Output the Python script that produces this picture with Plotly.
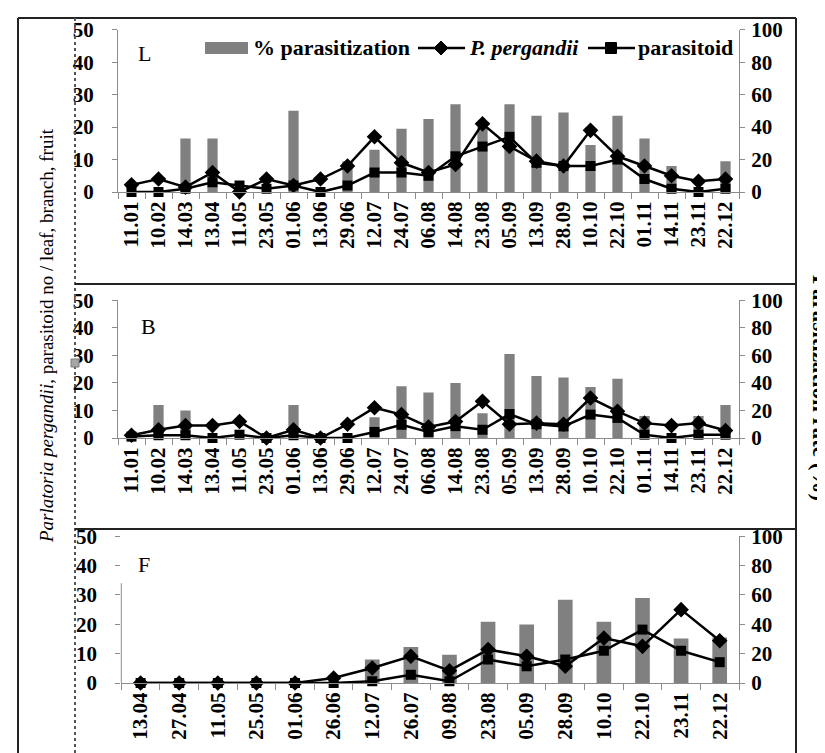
import plotly.graph_objects as go

# ---------------- data ----------------
L_cats = ["11.01", "10.02", "14.03", "13.04", "11.05", "23.05", "01.06", "13.06", "29.06", "12.07",
          "24.07", "06.08", "14.08", "23.08", "05.09", "13.09", "28.09", "10.10", "22.10", "01.11",
          "14.11", "23.11", "22.12"]
L_rate = [0, 0, 33, 33, 0, 0, 50, 0, 19, 26, 39, 45, 54, 40, 54, 47, 49, 29, 47, 33, 16, 0, 19]
L_pp = [2.2, 4, 1.5, 6, 0, 4, 2, 4, 8, 17, 9, 6, 8.5, 21, 14, 9.5, 8, 19, 11, 8, 5, 3.3, 4]
L_par = [0, 0, 1, 3, 2, 1, 2, 0, 2, 6, 6, 5, 11, 14, 17, 9, 8, 8, 10, 4, 1, 0, 1]

B_cats = L_cats
B_rate = [0, 24, 20, 0, 0, 0, 24, 0, 0, 15, 37.5, 33, 40, 18, 61, 45, 44, 37, 43, 16, 0, 16, 24]
B_pp = [1, 3, 4.5, 4.5, 6, 0, 3, 0, 5, 11, 8.5, 4, 6, 13.3, 5, 5.4, 5, 14.5, 9.7, 5.4, 4.5, 5.4, 2.7]
B_par = [0.5, 1, 1, 0, 1.2, 0, 1, 0, 0, 2.2, 4.8, 2.2, 4.3, 3, 8.7, 5, 4.2, 8.5, 7.3, 1.2, 0, 1.2, 1.2]

F_cats = ["13.04", "27.04", "11.05", "25.05", "01.06", "26.06", "12.07", "26.07", "09.08", "23.08",
          "05.09", "28.09", "10.10", "22.10", "23.11", "22.12"]
F_rate = [0, 0, 0, 0, 0, 0, 16, 24.6, 19.3, 41.8, 39.8, 56.8, 41.8, 58, 30.3, 31]
F_pp = [0, 0, 0, 0, 0, 1.7, 5.1, 9.1, 4.2, 11.4, 9.1, 5.7, 15.3, 12.5, 25, 14.4]
F_par = [0, 0, 0, 0, 0, 0, 0.6, 2.8, 0.6, 8, 5.7, 8, 11, 18.2, 11, 7.1]

panel_labels = ["L", "B", "F"]
left_ticks = [0, 10, 20, 30, 40, 50]
right_ticks = [0, 20, 40, 60, 80, 100]

# ---------------- helpers ----------------
W, H = 825, 753


def px(x):
    return x / W


def py(y):
    return 1 - y / H


def bold(v):
    return f"<b>{v}</b>"


FONT = "Liberation Serif"
BAR = "#808080"
AX = "#8c8c8c"

fig = go.Figure()

panels = [
    dict(cats=L_cats, rate=L_rate, pp=L_pp, par=L_par, xdom=(110, 731), ydom=(184, 21.7), lab=(136, 46)),
    dict(cats=B_cats, rate=B_rate, pp=B_pp, par=B_par, xdom=(110, 731), ydom=(430, 292.3), lab=(140, 318)),
    dict(cats=F_cats, rate=F_rate, pp=F_pp, par=F_par, xdom=(113.3, 731), ydom=(675, 528.3), lab=(136, 556)),
]

layout_axes = {}
annotations = []
shapes = []

tickfont = dict(family=FONT, size=21, color="black")

for i, p in enumerate(panels):
    xn = "x" if i == 0 else f"x{i + 1}"
    yr = "y" if i == 0 else f"y{2 * i + 1}"
    yl = f"y{2 * i + 2}"
    xk = "xaxis" if i == 0 else f"xaxis{i + 1}"
    yrk = "yaxis" if i == 0 else f"yaxis{2 * i + 1}"
    ylk = f"yaxis{2 * i + 2}"
    n = len(p["cats"])

    fig.add_trace(go.Bar(x=p["cats"], y=p["rate"], xaxis=xn, yaxis=yr, marker_color=BAR,
                         marker_line_width=0, width=0.38, showlegend=False))
    fig.add_trace(go.Scatter(x=p["cats"], y=p["pp"], xaxis=xn, yaxis=yl, mode="lines+markers",
                             line=dict(color="black", width=2.5),
                             marker=dict(symbol="diamond", size=12, color="black"),
                             cliponaxis=False, showlegend=False))
    fig.add_trace(go.Scatter(x=p["cats"], y=p["par"], xaxis=xn, yaxis=yl, mode="lines+markers",
                             line=dict(color="black", width=2.5),
                             marker=dict(symbol="square", size=10, color="black"),
                             cliponaxis=False, showlegend=False))

    xdom = [px(p["xdom"][0]), px(p["xdom"][1])]
    ydom = [py(p["ydom"][0]), py(p["ydom"][1])]

    layout_axes[xk] = dict(
        type="category", domain=xdom, anchor=yr, range=[-0.5, n - 0.5],
        categoryorder="array", categoryarray=p["cats"],
        tickmode="array", tickvals=p["cats"], ticktext=[bold(c) for c in p["cats"]],
        tickangle=-90, ticks="outside", tickson="boundaries", ticklen=6, tickcolor=AX,
        showline=True, linecolor=AX, linewidth=1, showgrid=False, zeroline=False,
        tickfont=dict(family=FONT, size=21, color="black"),
    )
    layout_axes[yrk] = dict(
        domain=ydom, anchor=xn, side="right", range=[0, 100],
        tickmode="array", tickvals=right_ticks, ticktext=[bold(v) for v in right_ticks],
        ticks="outside", ticklen=5, tickcolor=AX, showline=True, linecolor=AX, linewidth=1,
        showgrid=False, zeroline=False, tickfont=tickfont, ticklabelstandoff=2,
    )
    layout_axes[ylk] = dict(
        domain=ydom, anchor=xn, overlaying=yr, side="left", range=[0, 50],
        tickmode="array", tickvals=left_ticks, ticktext=[bold(v) for v in left_ticks],
        ticks="outside", ticklen=5, tickcolor=AX, showline=(i != 2), linecolor=AX, linewidth=1,
        showgrid=False, zeroline=False, tickfont=tickfont, ticklabelstandoff=14,
    )
    if i == 2:
        shapes.append(dict(type="line", xref="paper", yref=yl, x0=xdom[0], x1=xdom[0], y0=0, y1=34,
                           line=dict(color=AX, width=1)))

    annotations.append(dict(text=panel_labels[i], x=px(p["lab"][0]), y=py(p["lab"][1]),
                            xref="paper", yref="paper", showarrow=False, xanchor="center",
                            yanchor="middle", font=dict(family=FONT, size=22, color="black")))

# ---------------- frame lines ----------------
frame = dict(color="#222222", width=2)
shapes += [
    dict(type="line", xref="paper", yref="paper", x0=px(10), x1=px(788), y0=py(10), y1=py(10), line=frame),
    dict(type="line", xref="paper", yref="paper", x0=px(10), x1=px(10), y0=py(10), y1=py(753), line=frame),
    dict(type="line", xref="paper", yref="paper", x0=px(788), x1=px(788), y0=py(10), y1=py(753), line=frame),
    dict(type="line", xref="paper", yref="paper", x0=px(67), x1=px(67), y0=py(10), y1=py(753),
         line=dict(color="#555555", width=2, dash="dot")),
    dict(type="line", xref="paper", yref="paper", x0=px(67), x1=px(788), y0=py(276), y1=py(276), line=frame),
    dict(type="line", xref="paper", yref="paper", x0=px(67), x1=px(788), y0=py(521), y1=py(521), line=frame),
    dict(type="rect", xref="paper", yref="paper", x0=px(63), x1=px(71), y0=py(359), y1=py(351),
         fillcolor="#a6a6a6", line=dict(color="#7a7a7a", width=1)),
]

# ---------------- legend (manual) ----------------
ly = 40
shapes.append(dict(type="rect", xref="paper", yref="paper", x0=px(197), x1=px(240), y0=py(46), y1=py(34),
                   fillcolor=BAR, line=dict(width=0)))
for (x0, x1) in [(410, 457), (580, 627)]:
    shapes.append(dict(type="line", xref="paper", yref="paper", x0=px(x0), x1=px(x1), y0=py(ly), y1=py(ly),
                       line=dict(color="black", width=2.5)))
dcx = 433
shapes.append(dict(type="path", xref="paper", yref="paper",
                   path=f"M {px(dcx - 7)} {py(ly)} L {px(dcx)} {py(ly - 7)} L {px(dcx + 7)} {py(ly)} "
                        f"L {px(dcx)} {py(ly + 7)} Z",
                   fillcolor="black", line=dict(color="black", width=1)))
scx = 603
shapes.append(dict(type="rect", xref="paper", yref="paper", x0=px(scx - 5.5), x1=px(scx + 5.5),
                   y0=py(ly + 5.5), y1=py(ly - 5.5), fillcolor="black", line=dict(color="black", width=1)))

legfont = dict(family=FONT, size=22, color="black")
for txt, x in [("<b>% parasitization</b>", 243), ("<b><i>P. pergandii</i></b>", 459), ("<b>parasitoid</b>", 628)]:
    annotations.append(dict(text=txt, x=px(x), y=py(ly), xref="paper", yref="paper", showarrow=False,
                            xanchor="left", yanchor="middle", font=legfont))

# ---------------- axis titles ----------------
annotations.append(dict(text="<i>Parlatoria pergandii</i>, parasitoid no / leaf, branch, fruit",
                        x=px(38), y=py(328), xref="paper", yref="paper", showarrow=False,
                        textangle=-90, xanchor="center", yanchor="middle",
                        font=dict(family=FONT, size=19, color="black")))
annotations.append(dict(text="<b>Parasitization rate (%)</b>", x=px(813), y=py(380), xref="paper",
                        yref="paper", showarrow=False, textangle=90, xanchor="center", yanchor="middle",
                        font=dict(family=FONT, size=23, color="black")))

fig.update_layout(
    width=W, height=H,
    margin=dict(l=0, r=0, t=0, b=0, autoexpand=False),
    plot_bgcolor="white", paper_bgcolor="white",
    showlegend=False, bargap=0.6,
    shapes=shapes, annotations=annotations,
    **layout_axes,
)

fig.write_html("out.html")
